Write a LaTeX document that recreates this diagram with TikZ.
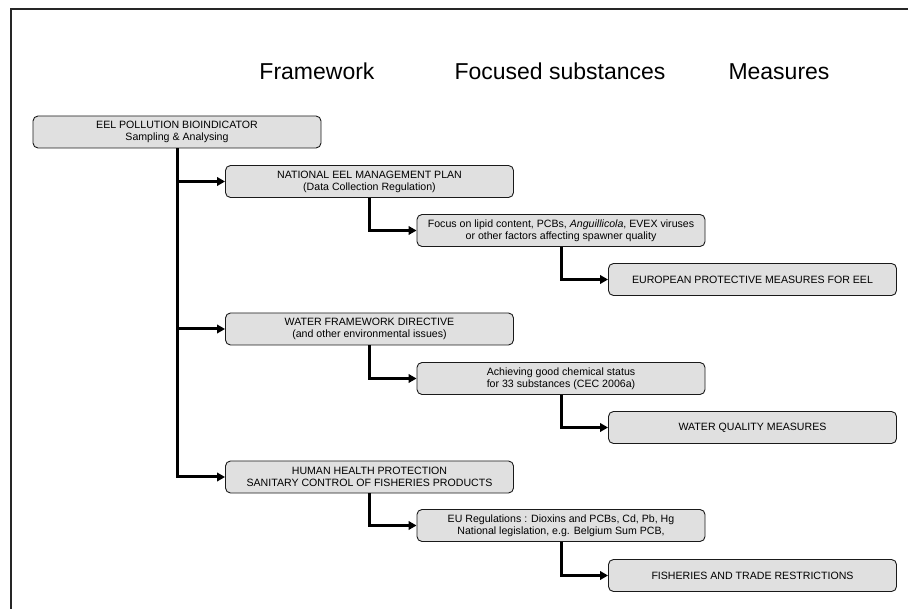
\documentclass[tikz,border=0pt]{standalone}
\usepackage{fontspec}
\setmainfont{Liberation Sans}
\usetikzlibrary{arrows.meta,positioning}
\definecolor{boxgray}{HTML}{E0E0E0}
\definecolor{boxline}{HTML}{1A1A1A}

\begin{document}
\begin{tikzpicture}[x=1pt, y=-1pt,
    box/.style={draw=boxline, line width=0.9pt, fill=boxgray, rounded corners=5pt,
      minimum width=288pt, minimum height=32pt, inner sep=2pt,
      align=center, font=\fontsize{10.6}{12}\selectfont},
    link/.style={line width=3pt, -{Triangle[length=8pt,width=8.5pt]}},
    head/.style={anchor=base, font=\fontsize{23}{26}\selectfont}]
  \useasboundingbox (0,0) rectangle (908,609);
  % frame
  \draw[line width=1.6pt, black!85] (908,9) -- (11,9) -- (11,609);
  % column headings
  \node[head] (hframe) at (317,80) {Framework};
  \node[head] (hsubst) at (560,80) {Focused substances};
  \node[head] (hmeas) at (779,80) {Measures};
  % boxes
  \node[box] (indic) at (177,132) {EEL POLLUTION BIOINDICATOR\\Sampling \& Analysing};
  \node[box] (eelplan) at (369.5,181.5) {NATIONAL EEL MANAGEMENT PLAN\\(Data Collection Regulation)};
  \node[box] (lipid) at (561,230.5) {Focus on lipid content, PCBs, \textit{Anguillicola}, EVEX viruses\\or other factors affecting spawner quality};
  \node[box] (europe) at (752.5,279.5) {EUROPEAN PROTECTIVE MEASURES FOR EEL};
  \node[box] (wfd) at (369.5,329) {WATER FRAMEWORK DIRECTIVE\\(and other environmental issues)};
  \node[box] (chem) at (561,378.5) {Achieving good chemical status\\for 33 substances (CEC 2006a)};
  \node[box] (quality) at (752.5,427.5) {WATER QUALITY MEASURES};
  \node[box] (health) at (369.5,477) {HUMAN HEALTH PROTECTION\\SANITARY CONTROL OF FISHERIES PRODUCTS};
  \node[box] (eureg) at (561,525.5) {EU Regulations : Dioxins and PCBs, Cd, Pb, Hg\\National legislation, e.g. Belgium Sum PCB,};
  \node[box] (trade) at (752.5,575.5) {FISHERIES AND TRADE RESTRICTIONS};
  % connectors
  \coordinate (trunkA) at (indic.south |- eelplan.west);
  \coordinate (trunkB) at (indic.south |- wfd.west);
  \draw[link] (indic.south) |- (health.west);
  \draw[link] (trunkA) -- (eelplan.west);
  \draw[link] (trunkB) -- (wfd.west);
  \draw[link] (eelplan.south) |- (lipid.west);
  \draw[link] (lipid.south) |- (europe.west);
  \draw[link] (wfd.south) |- (chem.west);
  \draw[link] (chem.south) |- (quality.west);
  \draw[link] (health.south) |- (eureg.west);
  \draw[link] (eureg.south) |- (trade.west);
\end{tikzpicture}
\end{document}
